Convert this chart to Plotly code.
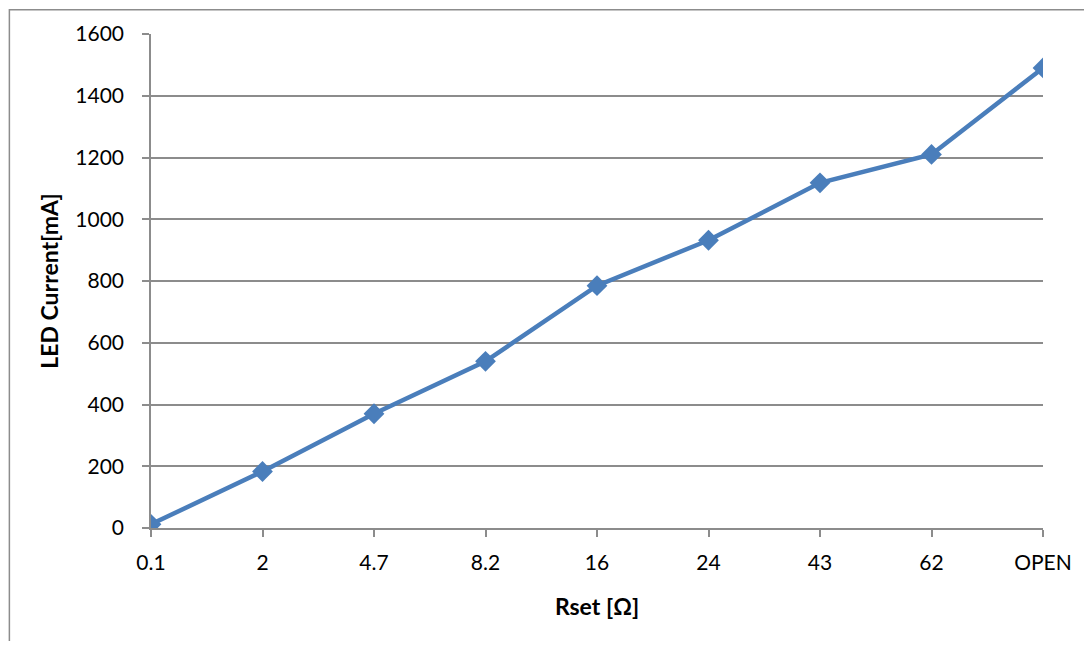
import plotly.graph_objects as go

rset_labels = ["0.1", "2", "4.7", "8.2", "16", "24", "43", "62", "OPEN"]
led_current_ma = [12, 183, 370, 540, 785, 932, 1118, 1210, 1490]
y_ticks = [0, 200, 400, 600, 800, 1000, 1200, 1400, 1600]

# page has an 8px body margin, so the figure is sized to fit inside it
W, H = 1076, 633
L, R, T, B = 143, 37, 25, 113
pw, ph = W - L - R, H - T - B

line_color = "#4A7EBB"
grid_color = "#8C8C8C"
font_family = "Lato, 'Liberation Sans', sans-serif"

fig = go.Figure()
fig.add_trace(go.Scatter(
    x=list(range(len(rset_labels))),
    y=led_current_ma,
    mode="lines+markers",
    line=dict(color=line_color, width=4.5),
    marker=dict(symbol="diamond", size=16, color=line_color),
    showlegend=False,
))

fig.update_layout(
    width=W, height=H, autosize=False,
    margin=dict(l=L, r=R, t=T, b=B, pad=0),
    paper_bgcolor="white", plot_bgcolor="white",
    font=dict(family=font_family, size=21, color="#000000"),
    xaxis=dict(
        range=[0, len(rset_labels) - 1],
        tickmode="array",
        tickvals=list(range(len(rset_labels))),
        ticktext=rset_labels,
        showgrid=False, zeroline=False,
        showline=True, linecolor=grid_color, linewidth=1.5,
        ticks="outside", ticklen=7, tickcolor=grid_color, tickwidth=1.5,
        ticklabelstandoff=8,
        title=dict(text="<b>Rset [Ω]</b>", standoff=26, font=dict(size=23)),
    ),
    yaxis=dict(
        range=[0, 1600],
        tickmode="array",
        tickvals=y_ticks,
        ticktext=[str(v) for v in y_ticks],
        showgrid=True, gridcolor=grid_color, gridwidth=1.5,
        zeroline=False,
        showline=True, linecolor=grid_color, linewidth=1.5,
        ticks="outside", ticklen=7, tickcolor=grid_color, tickwidth=1.5,
        ticklabelstandoff=14,
        title=dict(text="<b>LED Current[mA]</b>", standoff=10, font=dict(size=23)),
    ),
)

# Chart-area border (right/bottom edges fall outside the picture)
fig.add_shape(
    type="rect", xref="paper", yref="paper",
    x0=(0.75 - L) / pw, x1=(W + 5 - L) / pw,
    y0=(T + ph - (H + 5)) / ph, y1=(T + ph - 0.75) / ph,
    line=dict(color="#8C8C8C", width=1.5), fillcolor="rgba(0,0,0,0)",
    layer="below",
)

fig.write_html("out.html")
